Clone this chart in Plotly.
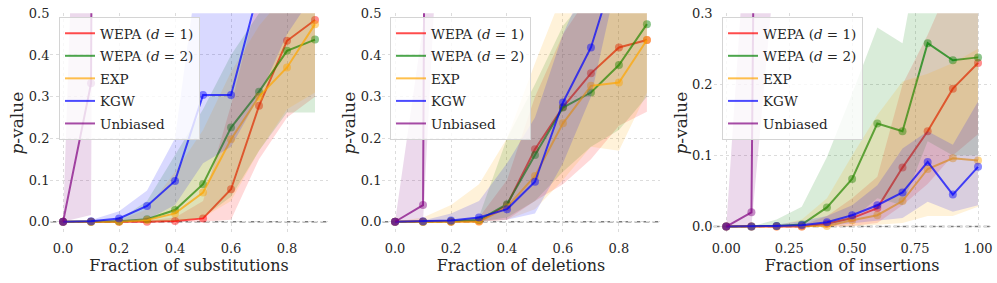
import plotly.graph_objects as go

FONT = "DejaVu Serif"
TXT = "#262626"

# ---------------- data ----------------
series_names = ["WEPA (<i>d</i> = 1)", "WEPA (<i>d</i> = 2)", "EXP", "KGW", "Unbiased"]
series_rgb = [(255, 0, 0), (0, 128, 0), (255, 165, 0), (0, 0, 255), (128, 0, 128)]

frac_sub = [0.0, 0.1, 0.2, 0.3, 0.4, 0.5, 0.6, 0.7, 0.8, 0.9]
frac_del = [0.0, 0.1, 0.2, 0.3, 0.4, 0.5, 0.6, 0.7, 0.8, 0.9]
frac_ins = [0.0, 0.1, 0.2, 0.3, 0.4, 0.5, 0.6, 0.7, 0.8, 0.9, 1.0]
frac_unb = [0.0, 0.1, 0.2]

# substitutions
sub_w1 = [0, 0, 0, 0, 0.002, 0.008, 0.078, 0.278, 0.434, 0.484]
sub_w1_lo = [0, 0, 0, 0, 0, 0, 0.005, 0.15, 0.25, 0.30]
sub_w1_hi = [0, 0, 0, 0.003, 0.01, 0.05, 0.28, 0.55, 0.65, 0.70]
sub_w2 = [0, 0, 0.001, 0.006, 0.028, 0.09, 0.226, 0.312, 0.41, 0.437]
sub_w2_lo = [0, 0, 0, 0, 0.002, 0.01, 0.06, 0.17, 0.262, 0.262]
sub_w2_hi = [0, 0, 0.005, 0.05, 0.16, 0.27, 0.40, 0.50, 0.60, 0.65]
sub_exp = [0, 0, 0, 0.004, 0.02, 0.07, 0.198, 0.30, 0.37, 0.474]
sub_exp_lo = [0, 0, 0, 0, 0.001, 0.01, 0.05, 0.17, 0.27, 0.31]
sub_exp_hi = [0, 0, 0.003, 0.03, 0.12, 0.22, 0.36, 0.47, 0.55, 0.60]
sub_kgw = [0, 0.001, 0.008, 0.038, 0.098, 0.304, 0.304, 0.56, 0.65, 0.75]
sub_kgw_lo = [0, 0, 0, 0.005, 0.04, 0.14, 0.18, 0.30, 0.45, 0.55]
sub_kgw_hi = [0, 0.004, 0.025, 0.075, 0.20, 0.70, 0.90, 1.0, 1.0, 1.0]
sub_unb = [0, 0.332, 15.0]
sub_unb_lo = [0, 0.016, 13.5]
sub_unb_hi = [0, 2.0, 17.0]

# deletions
del_w1 = [0, 0, 0, 0.001, 0.04, 0.174, 0.275, 0.356, 0.418, 0.436]
del_w1_lo = [0, 0, 0, 0, 0.005, 0.05, 0.09, 0.15, 0.23, 0.264]
del_w1_hi = [0, 0, 0.002, 0.01, 0.10, 0.30, 0.45, 0.55, 0.60, 0.65]
del_w2 = [0, 0, 0.001, 0.004, 0.042, 0.16, 0.274, 0.31, 0.376, 0.474]
del_w2_lo = [0, 0, 0, 0, 0.01, 0.05, 0.12, 0.18, 0.22, 0.30]
del_w2_hi = [0, 0, 0.003, 0.012, 0.20, 0.33, 0.47, 0.55, 0.60, 0.70]
del_exp = [0, 0, 0, 0, 0.035, 0.11, 0.236, 0.326, 0.334, 0.436]
del_exp_lo = [0, 0, 0, 0, 0.005, 0.03, 0.10, 0.18, 0.17, 0.31]
del_exp_hi = [0, 0.01, 0.04, 0.09, 0.20, 0.38, 0.55, 0.65, 0.70, 0.75]
del_kgw = [0, 0.001, 0.003, 0.01, 0.03, 0.096, 0.286, 0.418, 0.634, 0.75]
del_kgw_lo = [0, 0, 0, 0.001, 0.005, 0.02, 0.14, 0.30, 0.60, 0.70]
del_kgw_hi = [0, 0.003, 0.02, 0.05, 0.14, 0.25, 0.45, 0.60, 0.80, 0.90]
del_unb = [0, 0.04, 13.0]
del_unb_lo = [0, 0.0, 1.3]
del_unb_hi = [0, 0.47, 30.0]

# insertions
ins_w1 = [0, 0, 0, 0, 0.004, 0.012, 0.026, 0.083, 0.134, 0.194, 0.23]
ins_w1_lo = [0, 0, 0, 0, 0, 0.001, 0.005, 0.03, 0.06, 0.10, 0.13]
ins_w1_hi = [0, 0, 0, 0.002, 0.015, 0.04, 0.07, 0.20, 0.27, 0.35, 0.40]
ins_w2 = [0, 0, 0.001, 0.003, 0.027, 0.067, 0.145, 0.134, 0.258, 0.234, 0.238]
ins_w2_lo = [0, 0, 0, 0, 0.002, 0.01, 0.04, 0.03, 0.12, 0.10, 0.10]
ins_w2_hi = [0, 0, 0.01, 0.028, 0.098, 0.187, 0.28, 0.258, 0.45, 0.40, 0.40]
ins_exp = [0, 0, 0, 0, 0.001, 0.009, 0.016, 0.036, 0.081, 0.096, 0.093]
ins_exp_lo = [0, 0, 0, 0, 0, 0, 0.002, 0.005, 0.015, 0.015, 0.028]
ins_exp_hi = [0, 0, 0.002, 0.01, 0.04, 0.10, 0.157, 0.204, 0.215, 0.23, 0.25]
ins_kgw = [0, 0, 0.001, 0.002, 0.006, 0.016, 0.03, 0.048, 0.091, 0.045, 0.084]
ins_kgw_lo = [0, 0, 0, 0, 0.001, 0.004, 0.008, 0.012, 0.035, 0.021, 0.03]
ins_kgw_hi = [0, 0, 0.003, 0.008, 0.015, 0.03, 0.058, 0.11, 0.134, 0.115, 0.176]
ins_unb = [0, 0.02, 4.0]
ins_unb_lo = [0, 0.0, 0.39]
ins_unb_hi = [0, 0.53, 20.0]

xticks_a = [0.0, 0.2, 0.4, 0.6, 0.8]
xticks_ins = [0.0, 0.25, 0.5, 0.75, 1.0]
yticks_a = [0.0, 0.1, 0.2, 0.3, 0.4, 0.5]
yticks_ins = [0.0, 0.1, 0.2, 0.3]

panels = [
    dict(x=frac_sub,
         series=[(sub_w1, sub_w1_lo, sub_w1_hi), (sub_w2, sub_w2_lo, sub_w2_hi),
                 (sub_exp, sub_exp_lo, sub_exp_hi), (sub_kgw, sub_kgw_lo, sub_kgw_hi)],
         unb=(sub_unb, sub_unb_lo, sub_unb_hi),
         xtitle="Fraction of substitutions", xrange=[-0.045, 0.945], yrange=[-0.027, 0.5],
         xticks=xticks_a, xfmt=".1f", yticks=yticks_a,
         domain=[0.0506, 0.3286], legx=0.0592),
    dict(x=frac_del,
         series=[(del_w1, del_w1_lo, del_w1_hi), (del_w2, del_w2_lo, del_w2_hi),
                 (del_exp, del_exp_lo, del_exp_hi), (del_kgw, del_kgw_lo, del_kgw_hi)],
         unb=(del_unb, del_unb_lo, del_unb_hi),
         xtitle="Fraction of deletions", xrange=[-0.045, 0.945], yrange=[-0.027, 0.5],
         xticks=xticks_a, xfmt=".1f", yticks=yticks_a,
         domain=[0.3836, 0.6615], legx=0.3912),
    dict(x=frac_ins,
         series=[(ins_w1, ins_w1_lo, ins_w1_hi), (ins_w2, ins_w2_lo, ins_w2_hi),
                 (ins_exp, ins_exp_lo, ins_exp_hi), (ins_kgw, ins_kgw_lo, ins_kgw_hi)],
         unb=(ins_unb, ins_unb_lo, ins_unb_hi),
         xtitle="Fraction of insertions", xrange=[-0.05, 1.05], yrange=[-0.009, 0.3],
         xticks=xticks_ins, xfmt=".2f", yticks=yticks_ins,
         domain=[0.7158, 0.9936], legx=0.7242),
]


def rgba(c, a):
    return f"rgba({c[0]},{c[1]},{c[2]},{a})"


fig = go.Figure()
YDOM = [0.1767, 0.953]

for i, p in enumerate(panels):
    n = "" if i == 0 else str(i + 1)
    xa, ya, lg = "x" + n, "y" + n, "legend" + n
    all_series = [(p["x"],) + s for s in p["series"]] + [(frac_unb,) + p["unb"]]
    for k, (xs, mean, lo, hi) in enumerate(all_series):
        col = series_rgb[k]
        fig.add_trace(go.Scatter(
            x=list(xs) + list(xs)[::-1], y=list(hi) + list(lo)[::-1],
            fill="toself", fillcolor=rgba(col, 0.15), line=dict(width=0),
            mode="lines", showlegend=False, hoverinfo="skip", xaxis=xa, yaxis=ya))
        fig.add_trace(go.Scatter(
            x=xs, y=mean, mode="lines+markers",
            line=dict(color=rgba(col, 0.7), width=2),
            marker=dict(color=rgba(col, 0.45), size=8),
            showlegend=False, xaxis=xa, yaxis=ya))
    for k, name in enumerate(series_names):
        fig.add_trace(go.Scatter(
            x=[None], y=[None], mode="lines", name=name,
            line=dict(color=rgba(series_rgb[k], 0.7), width=2),
            legend=lg, legendgroup=f"g{i}{k}", xaxis=xa, yaxis=ya))

    axis_common = dict(showgrid=True, gridcolor="#dcdcdc", griddash="dot", gridwidth=1,
                       zeroline=False, showline=False, ticks="", automargin=False,
                       tickfont=dict(family=FONT, size=13, color=TXT))
    fig.layout["xaxis" + n] = dict(
        domain=p["domain"], anchor=ya, range=p["xrange"],
        tickvals=p["xticks"], tickformat=p["xfmt"], ticklabelstandoff=6,
        title=dict(text=p["xtitle"], font=dict(family=FONT, size=16, color=TXT), standoff=3),
        **axis_common)
    fig.layout["yaxis" + n] = dict(
        domain=YDOM, anchor=xa, range=p["yrange"],
        tickvals=p["yticks"], tickformat=".1f",
        title=dict(text="<i>p</i>-value", font=dict(family=FONT, size=17, color=TXT), standoff=0),
        **axis_common)
    fig.layout[lg] = dict(
        x=p["legx"], y=0.94, xanchor="left", yanchor="top",
        bgcolor="rgba(255,255,255,0.8)", bordercolor="#d4d4d4", borderwidth=1,
        font=dict(family=FONT, size=13.5, color=TXT), itemwidth=30,
        traceorder="grouped", tracegroupgap=2)
    fig.add_shape(type="line", xref=xa + " domain", x0=0, x1=1, yref=ya, y0=0, y1=0,
                  line=dict(color="rgba(110,110,110,0.9)", width=1.5, dash="6px,3px"),
                  layer="below")

fig.update_layout(
    width=997, height=283, autosize=False,
    margin=dict(l=0, r=0, t=0, b=0, autoexpand=False),
    paper_bgcolor="white", plot_bgcolor="white",
    font=dict(family=FONT, color=TXT),
)

fig.write_html("out.html", config={"displayModeBar": False},
               post_script="document.body.style.margin='0px';")
